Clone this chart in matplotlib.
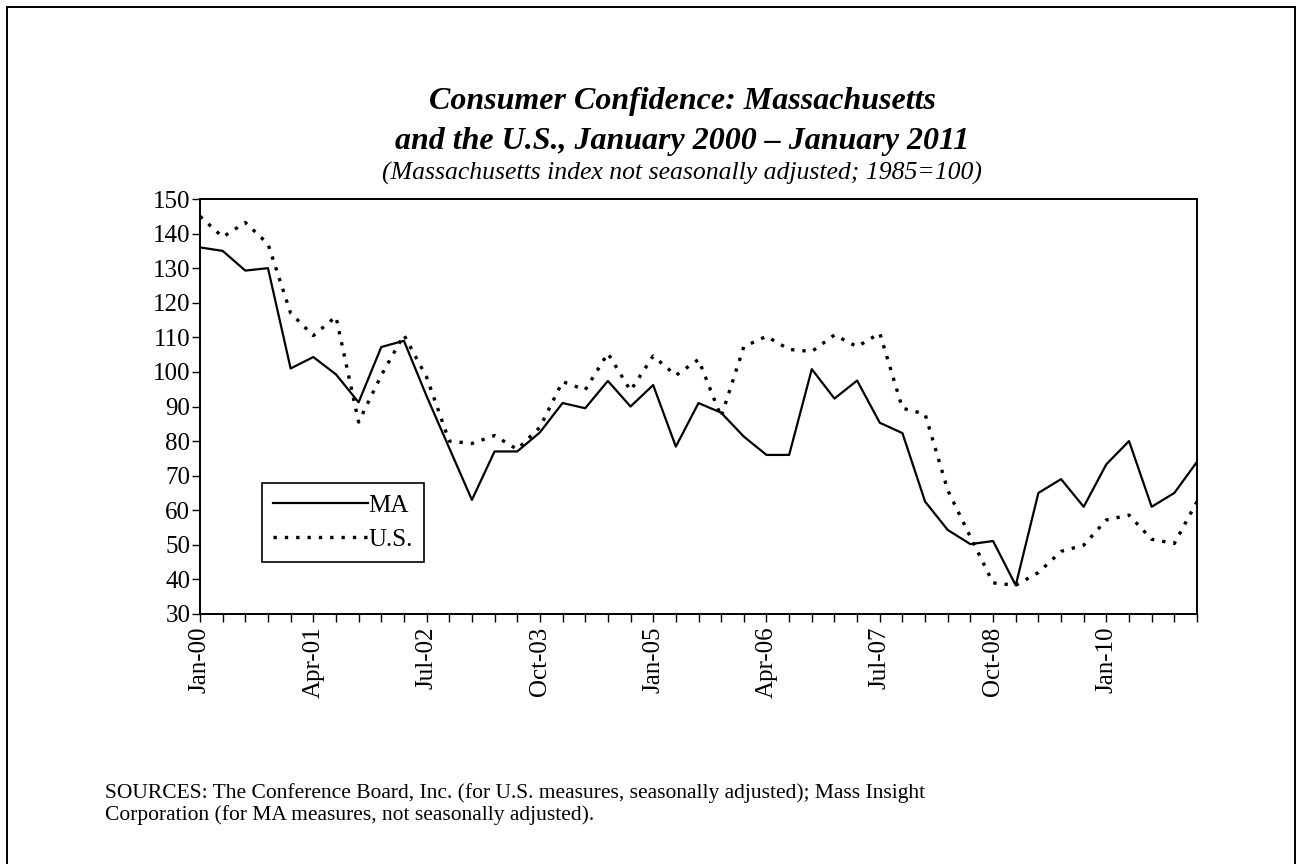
import matplotlib

matplotlib.use("Agg")
import matplotlib.pyplot as plt
import numpy as np
from matplotlib.patches import Rectangle

plt.rcParams["font.family"] = ["Liberation Serif", "DejaVu Serif"]

# quarterly observations, Jan-00 .. Jan-11
ma_index = [136, 135, 129.3, 130, 101, 104.3, 99.3, 91.2, 107.2, 109,
            93, 78, 63, 77, 77, 82.5, 91, 89.5, 97.4, 90,
            96.2, 78.4, 91, 88.2, 81.3, 76, 76, 100.8, 92.3, 97.5,
            85.3, 82.3, 62.5, 54.3, 50.2, 51.1, 38.3, 65, 69, 61,
            73.3, 80, 61, 65, 74]
us_index = [145, 139, 143.2, 137, 117, 110.5, 116, 85.5, 99, 110.7,
            98.5, 80, 79.3, 81.6, 77.6, 84, 97.2, 94.8, 105.4, 94.6,
            104.6, 99, 103.6, 87, 107.3, 110.3, 106.5, 105.9, 110.7, 107.3,
            111.2, 89.5, 87.8, 65.8, 52.3, 39, 38.3, 42, 48.1, 49.9,
            57.2, 58.6, 51.6, 50.4, 62.5]
tick_labels = ["Jan-00", "Apr-01", "Jul-02", "Oct-03", "Jan-05",
               "Apr-06", "Jul-07", "Oct-08", "Jan-10"]
label_step = 5

x = np.arange(len(ma_index))

fig = plt.figure(figsize=(13.02, 8.64), dpi=100)
# page frame: open at the bottom edge, as in the scanned original
fig.patches.append(Rectangle((7 / 1302, -0.05), 1288 / 1302, 1.05 - 7 / 864,
                             transform=fig.transFigure, fill=False,
                             edgecolor="black", linewidth=1.4))

ax = fig.add_axes([200 / 1302, 1 - 614 / 864, 997 / 1302, 415 / 864])
ax.plot(x, ma_index, color="black", linewidth=1.6, label="MA")
ax.plot(x, us_index, color="black", linewidth=2.4, linestyle=(0, (1, 2.4)), label="U.S.")

ax.set_xlim(0, len(ma_index) - 1)
ax.set_ylim(30, 150)
ax.set_yticks(np.arange(30, 151, 10))
ax.set_xticks(x)
ax.set_xticklabels([tick_labels[i // label_step] if i % label_step == 0 else "" for i in x],
                   rotation=90)
ax.tick_params(axis="both", direction="out", length=6, width=1, labelsize=18, color="black")
ax.tick_params(axis="y", pad=1)
ax.tick_params(axis="x", pad=3)
for spine in ax.spines.values():
    spine.set_linewidth(1.4)

leg = ax.legend(loc="lower left", bbox_to_anchor=(0.062, 0.125), borderaxespad=0,
                fancybox=False, framealpha=1, edgecolor="black", fontsize=18,
                handlelength=3.8, handletextpad=0.0, borderpad=0.45, labelspacing=0.45)
leg.get_frame().set_linewidth(1.2)

fig.text(0.524, 1 - 101 / 864, "Consumer Confidence: Massachusetts", ha="center", va="center",
         fontsize=23, fontweight="bold", style="italic")
fig.text(0.524, 1 - 141 / 864, "and the U.S., January 2000 \u2013 January 2011", ha="center",
         va="center", fontsize=23, fontweight="bold", style="italic")
fig.text(0.524, 1 - 173 / 864, "(Massachusetts index not seasonally adjusted; 1985=100)",
         ha="center", va="center", fontsize=18.5, style="italic")
fig.text(105 / 1302, 1 - 804 / 864,
         "SOURCES: The Conference Board, Inc. (for U.S. measures, seasonally adjusted); Mass Insight\n"
         "Corporation (for MA measures, not seasonally adjusted).",
         ha="left", va="center", fontsize=15.5, linespacing=1.15)

fig.savefig("out.png", dpi=100)
